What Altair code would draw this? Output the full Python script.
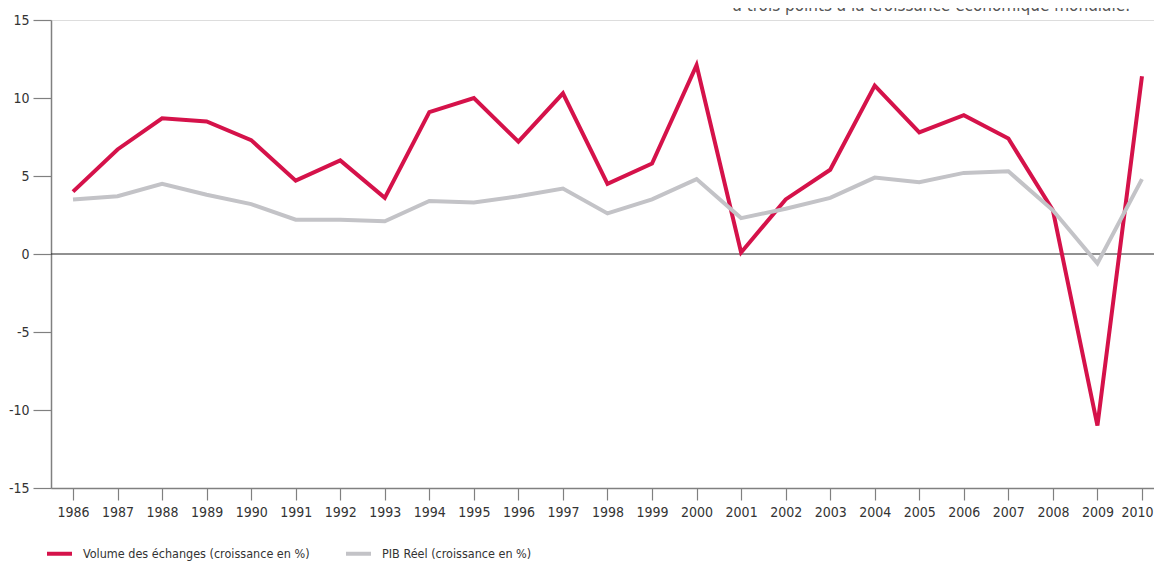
import altair as alt
import pandas as pd

years = list(range(1986, 2011))
volume = [4.0, 6.7, 8.7, 8.5, 7.3, 4.7, 6.0, 3.6, 9.1, 10.0, 7.2, 10.3, 4.5, 5.8,
          12.1, 0.1, 3.5, 5.4, 10.8, 7.8, 8.9, 7.4, 2.8, -11.0, 11.4]
pib = [3.5, 3.7, 4.5, 3.8, 3.2, 2.2, 2.2, 2.1, 3.4, 3.3, 3.7, 4.2, 2.6, 3.5,
       4.8, 2.3, 2.9, 3.6, 4.9, 4.6, 5.2, 5.3, 2.8, -0.6, 4.8]
series_names = ["Volume des échanges (croissance en %)", "PIB Réel (croissance en %)"]
series_colors = ["#d5124a", "#c3c3c7"]
y_ticks = [-15, -10, -5, 0, 5, 10, 15]
top_note = ["à trois points à la croissance économique mondiale."]

FONT = "DejaVu Sans Condensed"

rows = []
for y, v in zip(years, volume):
    rows.append({"Année": y, "Valeur": v, "Série": series_names[0]})
for y, v in zip(years, pib):
    rows.append({"Année": y, "Valeur": v, "Série": series_names[1]})
df = pd.DataFrame(rows)

W, H = 1103, 468

x_enc = alt.X("Année:Q", scale=alt.Scale(domain=[1985.506, 2010.27], nice=False, zero=False),
              axis=alt.Axis(title=None, values=years, format="d", labelAngle=0, tickSize=12,
                            labelPadding=5, grid=False, labelFlush=False, labelOverlap=False,
                            labelOffset={"condition": {"test": "datum.value == 2010", "value": -5},
                                         "value": 0},
                            domainColor="#808080", tickColor="#808080", domainWidth=1.5,
                            tickWidth=1.2, labelColor="#333333", labelFontSize=14,
                            labelFont=FONT))
y_scale = alt.Scale(domain=[-15, 15], nice=False)

lines = alt.Chart(df).mark_line(strokeWidth=4, strokeJoin="miter").encode(
    x=x_enc,
    y=alt.Y("Valeur:Q", scale=y_scale,
            axis=alt.Axis(title=None, values=y_ticks, tickSize=18, labelPadding=4, grid=False,
                          labelExpr="replace(datum.label, '\u2212', '-')",
                          domainColor="#808080", tickColor="#808080", domainWidth=1.5,
                          tickWidth=1.2, labelColor="#333333", labelFontSize=14,
                          labelFont=FONT)),
    color=alt.Color("Série:N", scale=alt.Scale(domain=series_names, range=series_colors),
                    sort=series_names,
                    legend=alt.Legend(title=None, orient="none", direction="horizontal",
                                      legendX=-6, legendY=519, symbolType="stroke",
                                      symbolStrokeWidth=4, symbolSize=625, labelOffset=9,
                                      columnPadding=28, labelFontSize=12.5, labelFont=FONT,
                                      labelColor="#333333", labelLimit=400)),
    order=alt.Order("Année:Q"),
)

zero = alt.Chart(pd.DataFrame({"z": [0]})).mark_rule(color="#222222", strokeWidth=1).encode(
    y=alt.Y("z:Q", scale=y_scale)
)

note = alt.Chart(pd.DataFrame({"t": top_note})).mark_text(
    align="right", baseline="alphabetic", fontSize=17, font=FONT, color="#555555"
).encode(x=alt.value(1130 - 51), y=alt.value(-9), text="t:N")

chart = alt.layer(zero, lines, note).properties(
    width=W, height=H,
    autosize=alt.AutoSizeParams(type="none"),
    padding={"left": 43, "top": 12, "right": 0, "bottom": 73},
).configure_view(stroke=None).configure(font=FONT)

chart.save("out.html", embed_options={"renderer": "svg", "actions": False})
